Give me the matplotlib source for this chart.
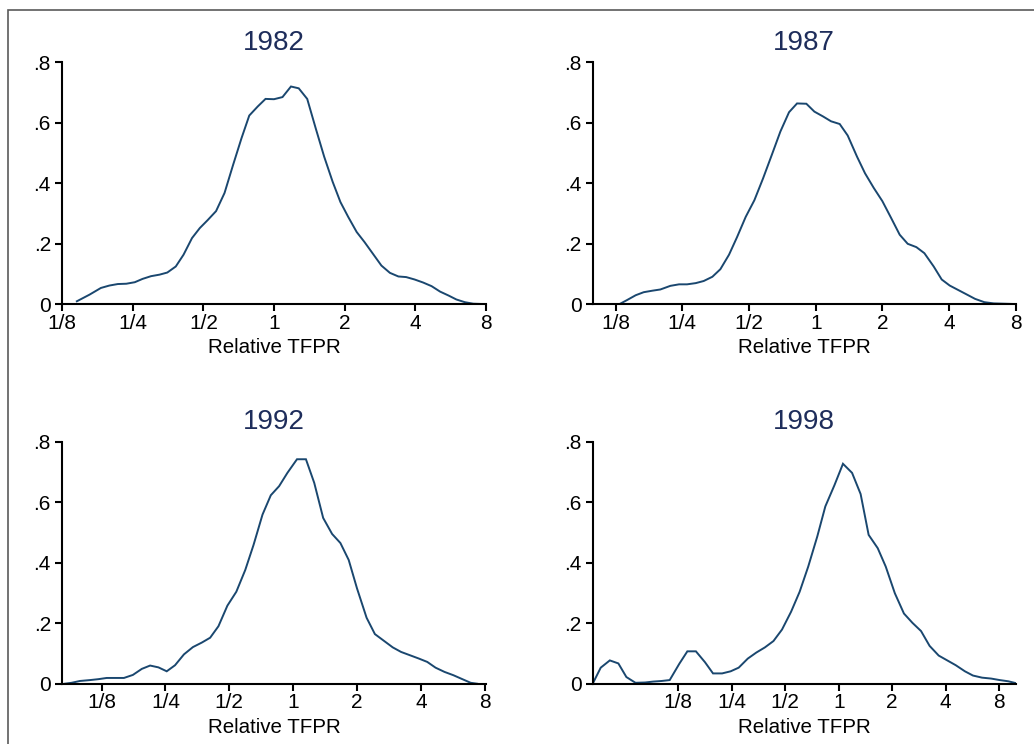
import numpy as np
import matplotlib
matplotlib.use("Agg")
import matplotlib.pyplot as plt
from matplotlib.patches import Rectangle

plt.rcParams['font.family'] = ['Liberation Sans', 'DejaVu Sans']

# ---- data (x = log2 of relative TFPR, y = density) ----
years = ["1982", "1987", "1992", "1998"]

x1982 = [-2.79, -2.61, -2.45, -2.33, -2.21, -2.09, -1.97, -1.86, -1.74, -1.62, -1.51, -1.39,
         -1.28, -1.16, -1.05, -0.94, -0.82, -0.70, -0.58, -0.46, -0.35, -0.23, -0.12, 0.00,
         0.12, 0.24, 0.35, 0.47, 0.59, 0.71, 0.83, 0.94, 1.05, 1.17, 1.28, 1.40, 1.52, 1.64,
         1.76, 1.87, 1.99, 2.11, 2.23, 2.35, 2.47, 2.58, 2.70, 2.82, 2.94]
y1982 = [0.009, 0.031, 0.053, 0.061, 0.066, 0.067, 0.072, 0.083, 0.092, 0.097, 0.104, 0.124,
         0.163, 0.218, 0.251, 0.277, 0.307, 0.367, 0.459, 0.548, 0.623, 0.653, 0.678, 0.677,
         0.684, 0.719, 0.713, 0.678, 0.581, 0.487, 0.404, 0.337, 0.288, 0.238, 0.205, 0.166,
         0.127, 0.103, 0.091, 0.089, 0.081, 0.071, 0.059, 0.041, 0.028, 0.015, 0.006, 0.001, 0.0]

x1987 = [-3.34, -2.94, -2.83, -2.70, -2.58, -2.45, -2.33, -2.18, -2.05, -1.93, -1.80, -1.68,
         -1.55, -1.43, -1.30, -1.18, -1.05, -0.92, -0.79, -0.66, -0.53, -0.40, -0.28, -0.14,
         -0.02, 0.11, 0.23, 0.36, 0.48, 0.62, 0.74, 0.87, 1.00, 1.13, 1.26, 1.38, 1.51, 1.63,
         1.77, 1.89, 2.01, 2.14, 2.27, 2.39, 2.53, 2.67, 2.82, 2.97]
y1987 = [0.0, 0.0, 0.013, 0.029, 0.039, 0.044, 0.048, 0.060, 0.065, 0.065, 0.069, 0.076,
         0.090, 0.115, 0.163, 0.221, 0.288, 0.343, 0.415, 0.492, 0.570, 0.634, 0.663, 0.662,
         0.636, 0.620, 0.604, 0.595, 0.557, 0.487, 0.432, 0.384, 0.340, 0.285, 0.229, 0.199,
         0.188, 0.168, 0.124, 0.081, 0.061, 0.046, 0.031, 0.017, 0.006, 0.002, 0.001, 0.0]

x1992 = [-3.575, -3.47, -3.34, -3.18, -3.05, -2.92, -2.79, -2.65, -2.51, -2.37, -2.24, -2.11,
         -1.98, -1.85, -1.71, -1.57, -1.43, -1.30, -1.17, -1.03, -0.89, -0.75, -0.62, -0.48,
         -0.35, -0.22, -0.09, 0.06, 0.20, 0.33, 0.47, 0.61, 0.74, 0.87, 1.00, 1.15, 1.28, 1.42,
         1.56, 1.69, 1.83, 1.97, 2.10, 2.23, 2.37, 2.51, 2.65, 2.78, 2.88]
y1992 = [0.0, 0.003, 0.009, 0.012, 0.015, 0.019, 0.019, 0.019, 0.029, 0.049, 0.060, 0.054,
         0.041, 0.061, 0.097, 0.121, 0.136, 0.152, 0.190, 0.258, 0.304, 0.376, 0.459, 0.559,
         0.623, 0.653, 0.697, 0.742, 0.742, 0.664, 0.548, 0.495, 0.465, 0.409, 0.315, 0.218,
         0.164, 0.142, 0.120, 0.105, 0.094, 0.083, 0.072, 0.053, 0.039, 0.028, 0.015, 0.003, 0.0]

x1998 = [-4.60, -4.45, -4.28, -4.12, -3.97, -3.80, -3.62, -3.47, -3.31, -3.16, -2.98, -2.83,
         -2.67, -2.50, -2.35, -2.18, -2.02, -1.87, -1.70, -1.54, -1.38, -1.22, -1.06, -0.89,
         -0.73, -0.57, -0.40, -0.25, -0.08, 0.08, 0.25, 0.41, 0.56, 0.73, 0.88, 1.05, 1.22,
         1.38, 1.54, 1.70, 1.87, 2.03, 2.19, 2.36, 2.51, 2.68, 2.85, 3.01, 3.17, 3.31]
y1998 = [0.0, 0.053, 0.077, 0.067, 0.022, 0.003, 0.004, 0.007, 0.009, 0.012, 0.066, 0.107,
         0.107, 0.071, 0.034, 0.034, 0.041, 0.053, 0.083, 0.103, 0.120, 0.141, 0.179, 0.238,
         0.304, 0.387, 0.487, 0.586, 0.656, 0.727, 0.697, 0.627, 0.492, 0.448, 0.387, 0.299,
         0.232, 0.201, 0.174, 0.125, 0.093, 0.077, 0.061, 0.041, 0.027, 0.020, 0.017, 0.012,
         0.008, 0.002]

xlims_log2 = [(-3.0, 3.0), (-3.345, 3.0), (-3.62, 3.02), (-4.60, 3.31)]
xtick_log2 = [-3, -2, -1, 0, 1, 2, 3]
xtick_labels = ["1/8", "1/4", "1/2", "1", "2", "4", "8"]
yticks = [0, 0.2, 0.4, 0.6, 0.8]
ytick_labels = ["0", ".2", ".4", ".6", ".8"]

series = [(x1982, y1982), (x1987, y1987), (x1992, y1992), (x1998, y1998)]

# ---- layout ----
W, H = 1034, 744
fig = plt.figure(figsize=(W / 100, H / 100), dpi=100)
fig.patch.set_facecolor("white")

# axes boxes in pixels: (left, right, top, bottom)
boxes = [(62, 486, 62, 304), (592.7, 1015.7, 62, 304),
         (62, 486, 441.7, 683.7), (592.7, 1015.7, 441.7, 683.7)]

line_color = "#1a476f"
title_color = "#1e2d5b"

for (l, r, t, b), yr, (xs, ys), xl in zip(boxes, years, series, xlims_log2):
    ax = fig.add_axes([l / W, 1 - b / H, (r - l) / W, (b - t) / H])
    ax.set_xscale("log", base=2)
    ax.plot(np.exp2(xs), ys, color=line_color, lw=1.4, solid_joinstyle="miter")
    ax.set_xlim(2.0 ** xl[0], 2.0 ** xl[1])
    ax.set_ylim(0, 0.8)
    ax.set_xticks(np.exp2(xtick_log2))
    ax.set_xticklabels(xtick_labels)
    ax.xaxis.set_minor_locator(matplotlib.ticker.NullLocator())
    ax.set_yticks(yticks)
    ax.set_yticklabels(ytick_labels)
    for s in ("top", "right"):
        ax.spines[s].set_visible(False)
    for s in ("left", "bottom"):
        ax.spines[s].set_linewidth(1.5)
        ax.spines[s].set_color("black")
    ax.tick_params(axis="both", direction="out", length=5, width=1.5,
                   labelsize=15, colors="black")
    ax.tick_params(axis="x", pad=2)
    ax.tick_params(axis="y", pad=3)
    ax.set_xlabel("Relative TFPR", fontsize=14.8, labelpad=4)
    ax.set_title(yr, fontsize=20, color=title_color, pad=9)
    ax.patch.set_alpha(0)

# outer gray frame (extends past right/bottom edges)
fig.patches.append(Rectangle((8 / W, -0.05), 1.1, 1 - 10 / H + 0.05,
                             transform=fig.transFigure, fill=False,
                             edgecolor="#5a5a5a", linewidth=1.2))

fig.savefig("out.png", dpi=100)
